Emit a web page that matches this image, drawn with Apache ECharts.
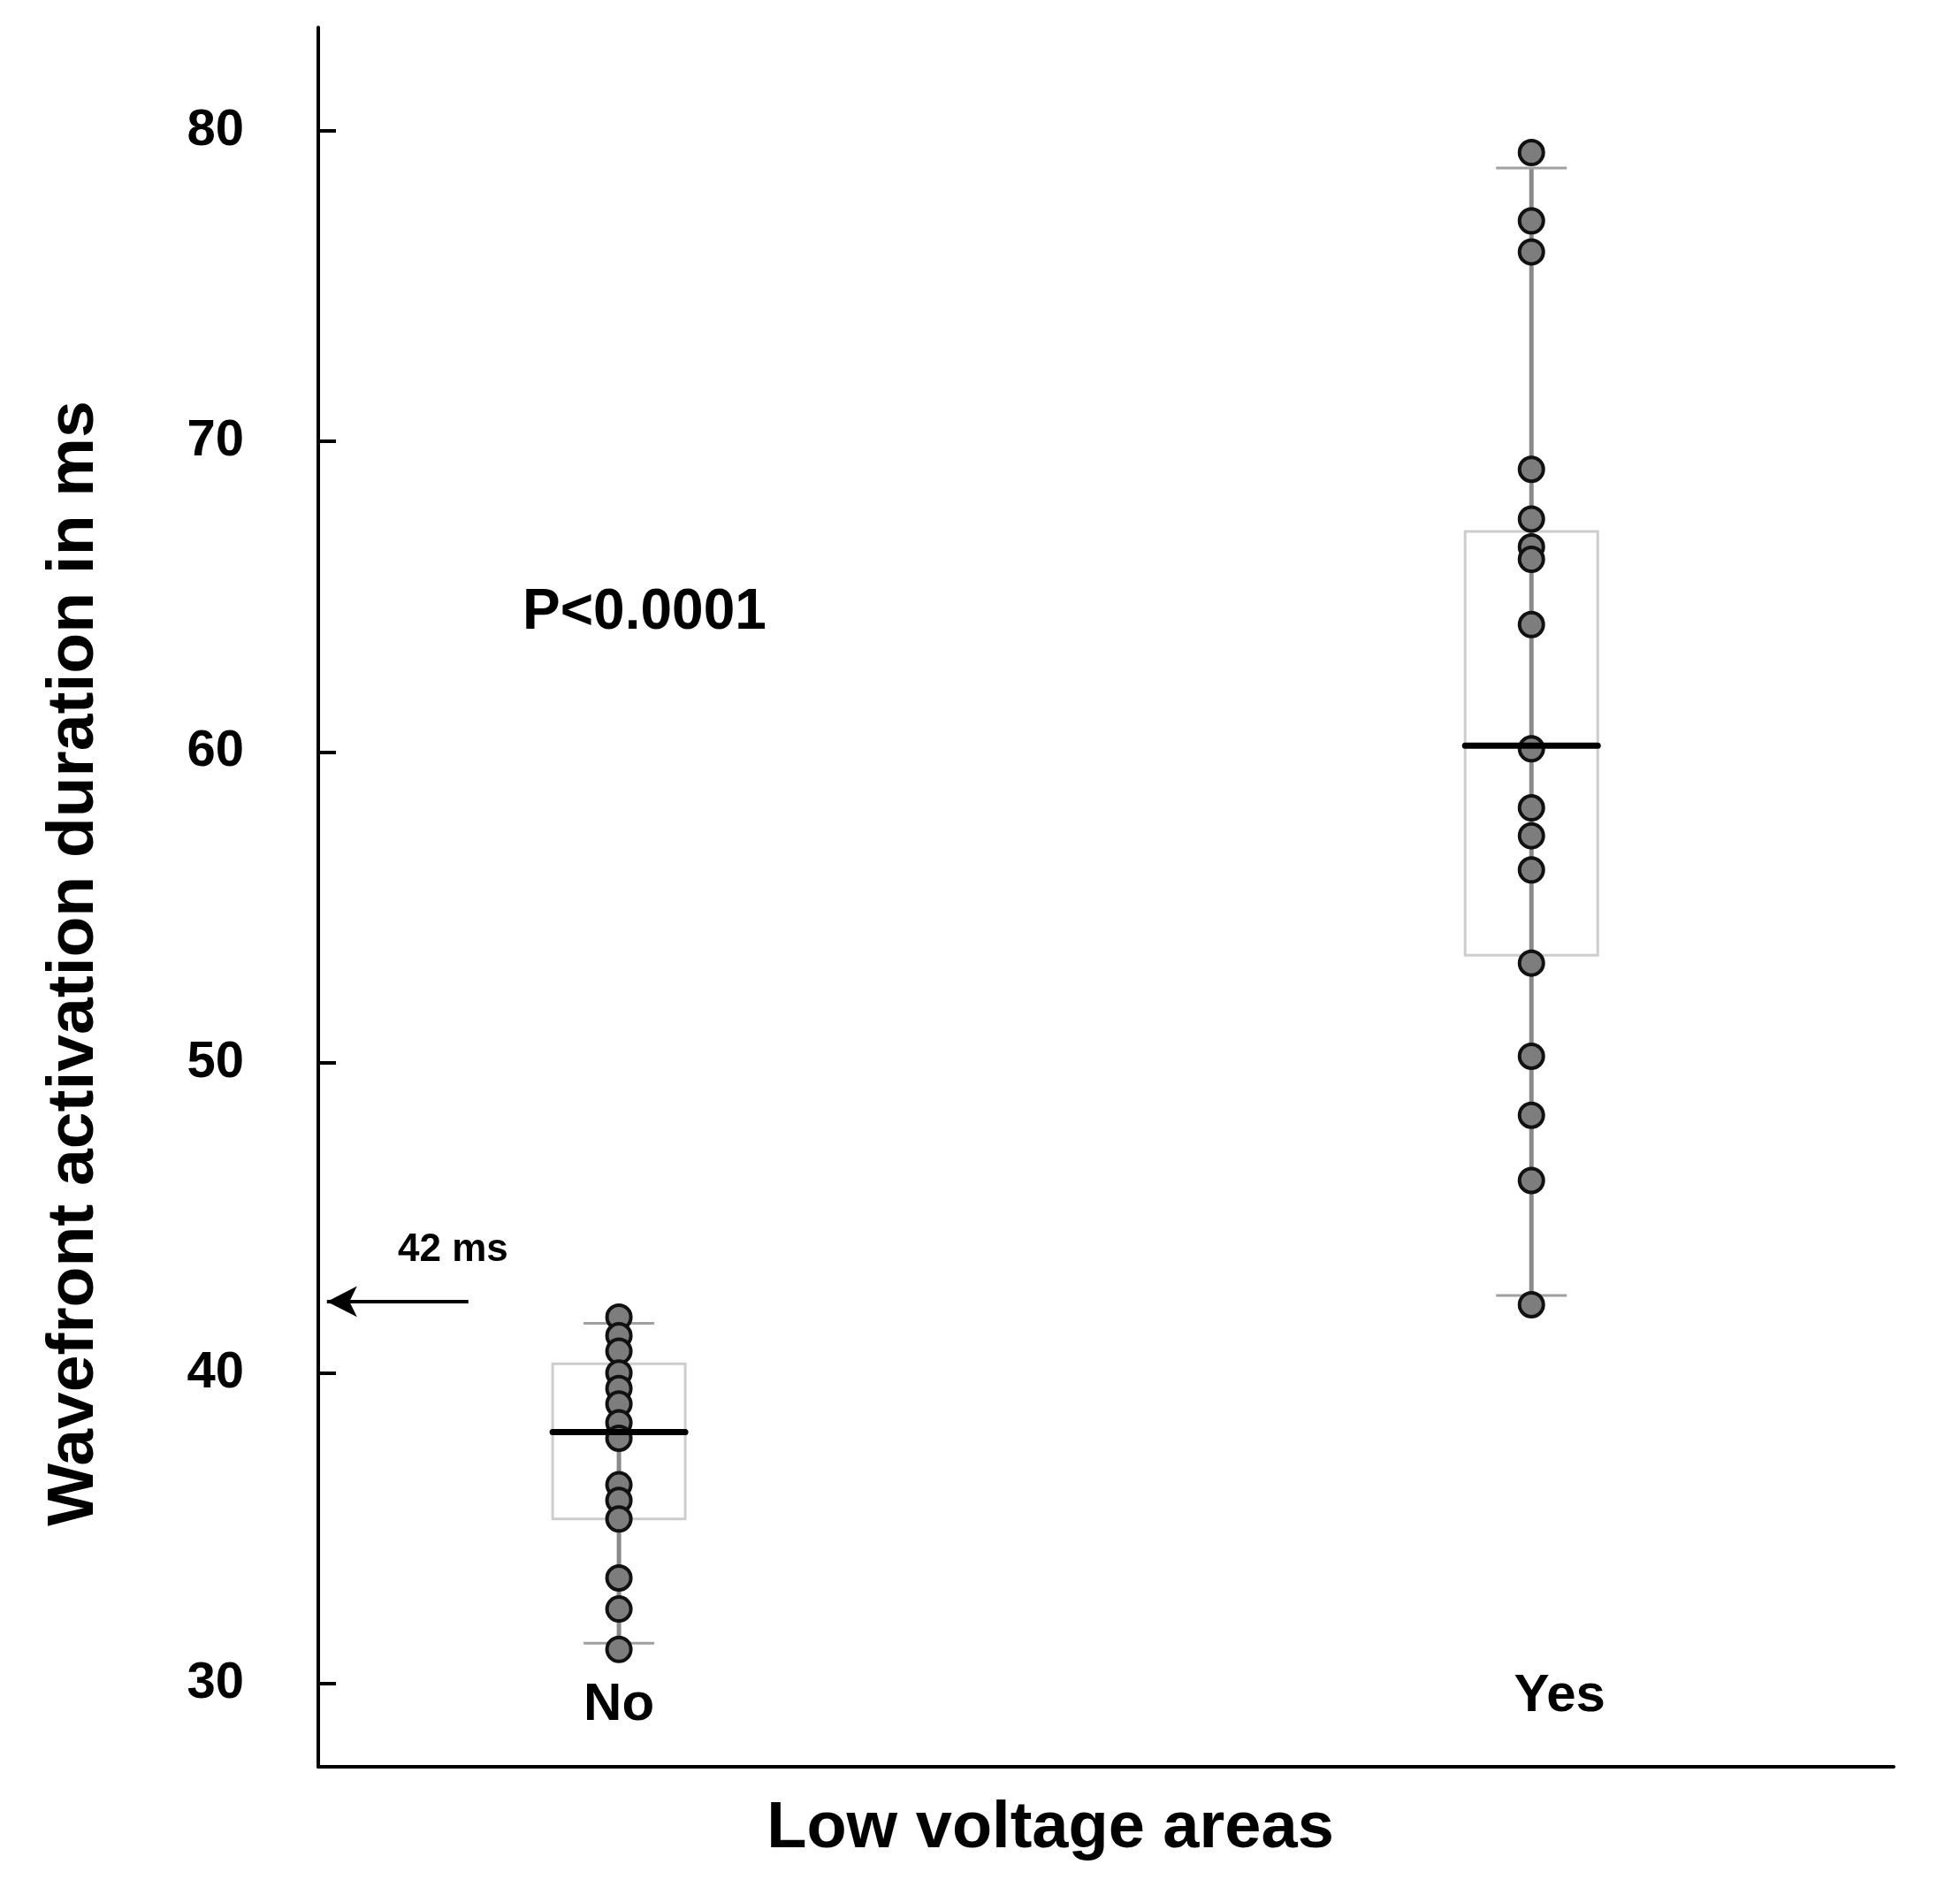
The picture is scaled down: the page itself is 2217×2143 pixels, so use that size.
<!DOCTYPE html>
<html>
<head>
<meta charset="utf-8">
<script src="https://cdn.jsdelivr.net/npm/echarts@6/dist/echarts.min.js"></script>
<style>
  html, body { margin: 0; padding: 0; background: #fff; }
  #chart { width: 2217px; height: 2143px; }
</style>
</head>
<body>
<div id="chart"></div>
<script>
// groups on the x axis (No = 1, Yes = 2)
var categories = ['No', 'Yes'];
var groupX = [1, 2];

// individual measurements, ms
var noValues = [41.8, 41.2, 40.7, 40.0, 39.5, 39.0, 38.4, 37.9, 36.4, 35.9, 35.3, 33.4, 32.4, 31.1];
var yesValues = [79.3, 77.1, 76.1, 69.1, 67.5, 66.6, 66.2, 64.1, 60.1, 58.2, 57.3, 56.2, 53.2, 50.2, 48.3, 46.2, 42.2];

// box stats: [min, q1, median, q3, max]
var noBox = [31.3, 35.3, 38.1, 40.3, 41.6];
var yesBox = [42.5, 53.45, 60.2, 67.1, 78.8];

var yTicks = [30, 40, 50, 60, 70, 80];
var cutoff = 42.3; // "42 ms" arrow

var font = 'Liberation Sans, Arial, Helvetica, sans-serif';

var points = [];
noValues.forEach(function (v) { points.push([groupX[0], v]); });
yesValues.forEach(function (v) { points.push([groupX[1], v]); });

var boxData = [
  [groupX[0]].concat(noBox),
  [groupX[1]].concat(yesBox)
];

var HALF = 75, CAP = 40;

function renderBox(params, api) {
  var x = api.value(0);
  var lo = api.coord([x, api.value(1)]);
  var q1 = api.coord([x, api.value(2)]);
  var q3 = api.coord([x, api.value(4)]);
  var hi = api.coord([x, api.value(5)]);
  var grey = { stroke: '#cdcdcd', lineWidth: 3, fill: 'none' };
  return {
    type: 'group',
    children: [
      { type: 'rect', shape: { x: q3[0] - HALF, y: q3[1], width: HALF * 2, height: q1[1] - q3[1] }, style: grey },
      { type: 'line', shape: { x1: hi[0], y1: hi[1], x2: lo[0], y2: lo[1] }, style: { stroke: '#8a8a8a', lineWidth: 5 } },
      { type: 'line', shape: { x1: hi[0] - CAP, y1: hi[1], x2: hi[0] + CAP, y2: hi[1] }, style: { stroke: '#a0a0a0', lineWidth: 3 } },
      { type: 'line', shape: { x1: lo[0] - CAP, y1: lo[1], x2: lo[0] + CAP, y2: lo[1] }, style: { stroke: '#a0a0a0', lineWidth: 3 } }
    ]
  };
}

function renderMedian(params, api) {
  var x = api.value(0);
  var m = api.coord([x, api.value(3)]);
  return {
    type: 'line',
    shape: { x1: m[0] - HALF, y1: m[1], x2: m[0] + HALF, y2: m[1] },
    style: { stroke: '#000', lineWidth: 7, lineCap: 'round' }
  };
}

var chart = echarts.init(document.getElementById('chart'));

chart.setOption({
  backgroundColor: '#fff',
  animation: false,
  grid: { left: 360, right: 75, top: 31, bottom: 145, outerBoundsMode: 'none' },
  xAxis: {
    type: 'value',
    min: 0.6705,
    max: 2.397,
    splitLine: { show: false },
    axisLine: { show: true, lineStyle: { color: '#000', width: 4 } },
    axisTick: { show: false },
    axisLabel: {
      inside: true,
      margin: 40,
      customValues: groupX,
      formatter: function (v) {
        var i = Math.round(v) - 1;
        return i === 1 ? '{yes|' + categories[i] + '}' : '{no|' + categories[i] + '}';
      },
      rich: {
        no: { color: '#000', fontFamily: font, fontWeight: 'bold', fontSize: 60, padding: [0, 0, 0, 0] },
        yes: { color: '#000', fontFamily: font, fontWeight: 'bold', fontSize: 60, padding: [0, 0, 10, 64] }
      },
      color: '#000',
      fontFamily: font,
      fontWeight: 'bold',
      fontSize: 60
    },
    name: 'Low voltage areas',
    nameLocation: 'middle',
    nameGap: 34,
    nameTextStyle: {
      color: '#000', fontFamily: font, fontWeight: 'bold', fontSize: 74,
      padding: [0, 126, 0, 0]
    }
  },
  yAxis: {
    type: 'value',
    min: 27.32,
    max: 83.33,
    splitLine: { show: false },
    axisLine: { show: true, lineStyle: { color: '#000', width: 4 } },
    axisTick: {
      show: true, inside: true, length: 20, customValues: yTicks,
      lineStyle: { color: '#000', width: 4 }
    },
    axisLabel: {
      customValues: yTicks,
      margin: 84,
      color: '#000',
      fontFamily: font,
      fontWeight: 'bold',
      fontSize: 58
    },
    name: 'Wavefront activation duration in ms',
    nameLocation: 'middle',
    nameGap: 238,
    nameTextStyle: {
      color: '#000', fontFamily: font, fontWeight: 'bold', fontSize: 75,
      padding: [0, 150, 0, 0]
    }
  },
  graphic: [
    {
      type: 'text', left: 591, top: 661,
      style: { text: 'P<0.0001', fill: '#000', font: 'bold 64px ' + font }
    },
    {
      type: 'text', left: 450, top: 1392,
      style: { text: '42 ms', fill: '#000', font: 'bold 44px ' + font }
    }
  ],
  series: [
    {
      type: 'custom',
      name: 'box',
      renderItem: renderBox,
      data: boxData,
      encode: { x: 0, y: [1, 2, 3, 4, 5] },
      z: 1,
      silent: true,
      markLine: {
        silent: true,
        symbol: ['none', 'arrow'],
        symbolSize: [26, 34],
        label: { show: false },
        lineStyle: { color: '#000', width: 4, type: 'solid' },
        data: [[{ coord: [0.835, cutoff] }, { coord: [0.68, cutoff] }]]
      }
    },
    {
      type: 'scatter',
      name: 'values',
      data: points,
      symbol: 'circle',
      symbolSize: 27,
      itemStyle: { color: '#7d7d7d', borderColor: '#111', borderWidth: 4, opacity: 1 },
      z: 2
    },
    {
      type: 'custom',
      name: 'median',
      renderItem: renderMedian,
      data: boxData,
      encode: { x: 0, y: [1, 2, 3, 4, 5] },
      z: 3,
      silent: true
    }
  ]
});
</script>
</body>
</html>
